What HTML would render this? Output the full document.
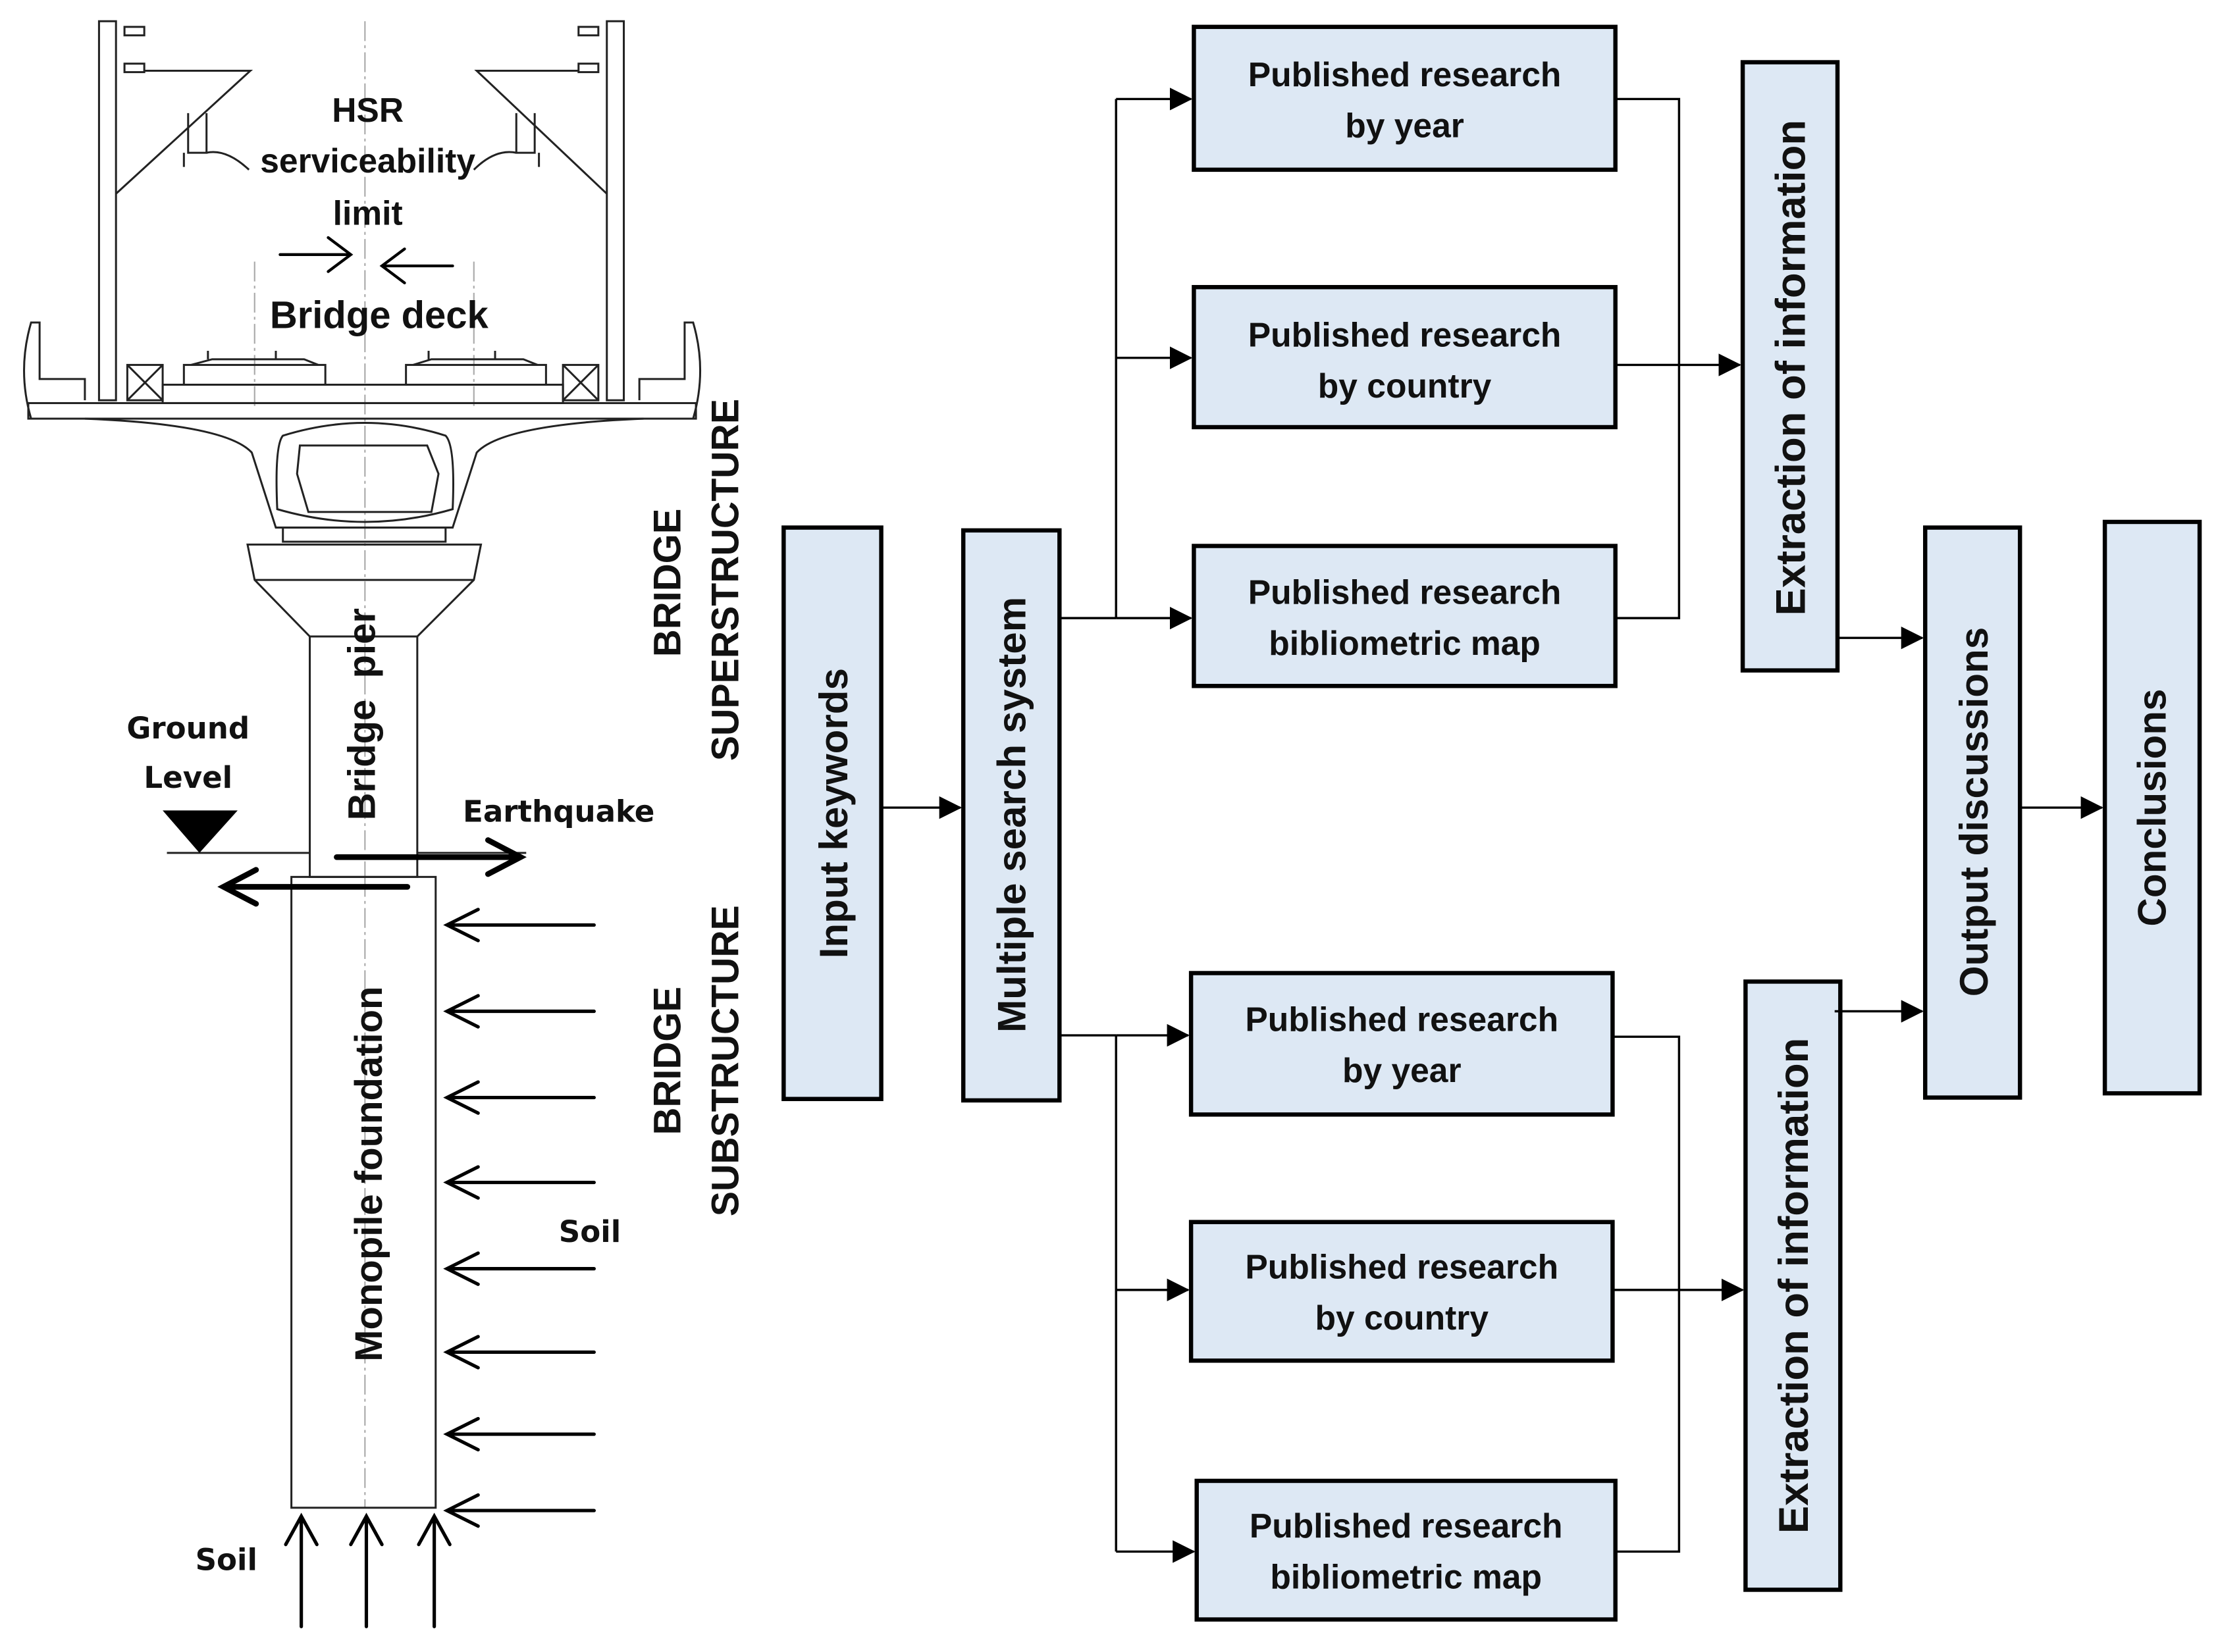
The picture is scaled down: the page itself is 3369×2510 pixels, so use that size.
<!DOCTYPE html>
<html><head><meta charset="utf-8"><style>
html,body{margin:0;padding:0;background:#fff;}
svg{display:block;}
.bx{fill:#dde8f4;stroke:#000;stroke-width:3;}
.t{font-family:"Liberation Sans",sans-serif;font-weight:bold;fill:#111;}
.d{fill:none;stroke:#222;stroke-width:1.4;}
</style></head><body>
<svg width="3369" height="2510" viewBox="0 0 1568 1168" preserveAspectRatio="none" xmlns="http://www.w3.org/2000/svg">
<defs>
<marker id="ah" markerWidth="16" markerHeight="16" refX="15" refY="8" orient="auto" markerUnits="userSpaceOnUse" viewBox="0 0 16 16">
<path d="M0,0 L16,8 L0,16z" fill="#000"/></marker>
</defs>
<rect class="bx" x="554" y="373" width="69" height="404"/>
<rect class="bx" x="681" y="375" width="68" height="403"/>
<rect class="bx" x="844" y="19" width="298" height="101"/>
<rect class="bx" x="844" y="203" width="298" height="99"/>
<rect class="bx" x="844" y="386" width="298" height="99"/>
<rect class="bx" x="842" y="688" width="298" height="100"/>
<rect class="bx" x="842" y="864" width="298" height="98"/>
<rect class="bx" x="846" y="1047" width="296" height="98"/>
<rect class="bx" x="1232" y="44" width="67" height="430"/>
<rect class="bx" x="1234" y="694" width="67" height="430"/>
<rect class="bx" x="1361" y="373" width="67" height="403"/>
<rect class="bx" x="1488" y="369" width="67" height="404"/>
<g class="t" font-size="24" text-anchor="middle">
<text x="993" y="61">Published research</text><text x="993" y="97">by year</text>
<text x="993" y="245">Published research</text><text x="993" y="281">by country</text>
<text x="993" y="427">Published research</text><text x="993" y="463">bibliometric map</text>
<text x="991" y="729">Published research</text><text x="991" y="765">by year</text>
<text x="991" y="904">Published research</text><text x="991" y="940">by country</text>
<text x="994" y="1087">Published research</text><text x="994" y="1123">bibliometric map</text>
</g>
<g class="t" font-size="28" text-anchor="middle">
<text transform="translate(599,575) rotate(-90)">Input keywords</text>
<text transform="translate(725,576) rotate(-90)">Multiple search system</text>
<text transform="translate(1276,260) rotate(-90)" font-size="29.5">Extraction of information</text>
<text transform="translate(1278,909) rotate(-90)" font-size="29.5">Extraction of information</text>
<text transform="translate(1405,574) rotate(-90)">Output discussions</text>
<text transform="translate(1531,571) rotate(-90)">Conclusions</text>
</g>
<g stroke="#000" stroke-width="1.6" fill="none">
<line x1="623" y1="571" x2="679" y2="571" marker-end="url(#ah)"/>
<line x1="1428" y1="571" x2="1486" y2="571" marker-end="url(#ah)"/>
<polyline points="749,437 789,437"/>
<line x1="789" y1="70" x2="789" y2="437"/>
<line x1="789" y1="70" x2="842" y2="70" marker-end="url(#ah)"/>
<line x1="789" y1="253" x2="842" y2="253" marker-end="url(#ah)"/>
<line x1="789" y1="437" x2="842" y2="437" marker-end="url(#ah)"/>
<polyline points="749,732 789,732"/>
<line x1="789" y1="732" x2="789" y2="1097"/>
<line x1="789" y1="732" x2="840" y2="732" marker-end="url(#ah)"/>
<line x1="789" y1="912" x2="840" y2="912" marker-end="url(#ah)"/>
<line x1="789" y1="1097" x2="844" y2="1097" marker-end="url(#ah)"/>
<polyline points="1142,70 1187,70 1187,437 1142,437"/>
<line x1="1142" y1="258" x2="1230" y2="258" marker-end="url(#ah)"/>
<polyline points="1140,733 1187,733 1187,1097 1142,1097"/>
<line x1="1140" y1="912" x2="1232" y2="912" marker-end="url(#ah)"/>
<line x1="1299" y1="451" x2="1359" y2="451" marker-end="url(#ah)"/>
<line x1="1297" y1="715" x2="1359" y2="715" marker-end="url(#ah)"/>
</g>
<g class="t" font-size="27" text-anchor="middle">
<text transform="translate(481,412) rotate(-90)">BRIDGE</text>
<text transform="translate(522,410) rotate(-90)" textLength="256" lengthAdjust="spacingAndGlyphs">SUPERSTRUCTURE</text>
<text transform="translate(481,750) rotate(-90)">BRIDGE</text>
<text transform="translate(522,750) rotate(-90)" textLength="220" lengthAdjust="spacingAndGlyphs">SUBSTRUCTURE</text>
</g>
<g stroke="#aaa" stroke-width="1" stroke-dasharray="14,3,2,3" fill="none">
<line x1="258" y1="15" x2="258" y2="620"/>
<line x1="180" y1="185" x2="180" y2="290"/>
<line x1="335" y1="185" x2="335" y2="290"/>
<line x1="258" y1="620" x2="258" y2="1066"/>
</g>
<g class="d">
<rect x="70" y="15" width="12" height="268"/>
<rect x="429" y="15" width="12" height="268"/>
<rect x="88" y="19" width="14" height="6"/><rect x="88" y="45" width="14" height="6"/>
<rect x="409" y="19" width="14" height="6"/><rect x="409" y="45" width="14" height="6"/>
<polyline points="102,50 177,50 82,137"/>
<polyline points="409,50 337,50 429,137"/>
<path d="M133,80 V108 H146 V80 M130,118 V108 M146,108 Q160,105 176,120"/>
<path d="M378,80 V108 H365 V80 M381,118 V108 M365,108 Q350,105 335,120"/>
<path d="M22,296 Q12,262 22,228 H28 V268 H60 V283"/>
<path d="M490,296 Q500,262 490,228 H484 V268 H452 V283"/>
<rect x="20" y="285" width="472" height="11"/>
<rect x="90" y="258" width="25" height="25"/><path d="M90,258 L115,283 M115,258 L90,283"/>
<rect x="398" y="258" width="25" height="25"/><path d="M398,258 L423,283 M423,258 L398,283"/>
<rect x="115" y="272" width="283" height="13"/>
<rect x="130" y="258" width="100" height="14"/><rect x="287" y="258" width="99" height="14"/>
<path d="M135,258 L150,254 H215 L225,258 M147,254 V248 M195,254 V248 M292,258 L305,254 H370 L380,258 M303,254 V248 M350,254 V248"/>
<path d="M60,296 Q160,300 178,320 L195,373 H320 L337,320 Q355,300 455,296"/>
<path d="M200,308 Q258,290 315,308 Q322,315 320,360 Q258,378 196,360 Q194,315 200,308z"/>
<path d="M212,315 H302 L310,335 L305,362 H218 L210,335z"/>
<rect x="200" y="373" width="115" height="10"/>
<path d="M175,385 H340 L335,410 L295,450 H219 L180,410z"/>
<line x1="180" y1="410" x2="335" y2="410"/>
<rect x="219" y="450" width="76" height="170"/>
<rect x="206" y="620" width="102" height="446"/>
<line x1="118" y1="603" x2="219" y2="603"/><line x1="295" y1="603" x2="372" y2="603"/>
</g>
<path d="M115,573 H168 L141,603z" fill="#000"/>
<g stroke="#000" fill="none" stroke-linecap="round">
<g stroke-width="2">
<path d="M198,180 H248 M232,168 L248,180 L232,192"/>
<path d="M320,188 H270 M286,176 L270,188 L286,200"/>
</g>
<g stroke-width="4">
<path d="M238,606 H368 M345,594 L368,606 L345,618"/>
<path d="M288,627 H158 M181,615 L158,627 L181,639"/>
</g>
<g stroke-width="2.4">
<path d="M420,654 H316 M338,643 L316,654 L338,665"/>
<path d="M420,715 H316 M338,704 L316,715 L338,726"/>
<path d="M420,776 H316 M338,765 L316,776 L338,787"/>
<path d="M420,836 H316 M338,825 L316,836 L338,847"/>
<path d="M420,897 H316 M338,886 L316,897 L338,908"/>
<path d="M420,956 H316 M338,945 L316,956 L338,967"/>
<path d="M420,1014 H316 M338,1003 L316,1014 L338,1025"/>
<path d="M420,1068 H316 M338,1057 L316,1068 L338,1079"/>
<path d="M213,1150 V1072 M202,1092 L213,1072 L224,1092"/>
<path d="M259,1150 V1072 M248,1092 L259,1072 L270,1092"/>
<path d="M307,1150 V1072 M296,1092 L307,1072 L318,1092"/>
</g>
</g>
<g class="t" text-anchor="middle" font-size="24">
<text x="260" y="86">HSR</text>
<text x="260" y="122">serviceability</text>
<text x="260" y="159">limit</text>
<text x="268" y="232" font-size="27">Bridge deck</text>
</g>
<g font-family="'DejaVu Sans',sans-serif" font-weight="bold" font-size="21" fill="#111" text-anchor="middle">
<text x="133" y="522">Ground</text>
<text x="133" y="557">Level</text>
<text x="395" y="581">Earthquake</text>
<text x="417" y="878">Soil</text>
<text x="160" y="1110">Soil</text>
</g>
<g class="t" font-size="27" text-anchor="middle">
<text transform="translate(265,505) rotate(-90)">Bridge&#160; pier</text>
<text transform="translate(270,830) rotate(-90)">Monopile foundation</text>
</g>
</svg>
</body></html>
